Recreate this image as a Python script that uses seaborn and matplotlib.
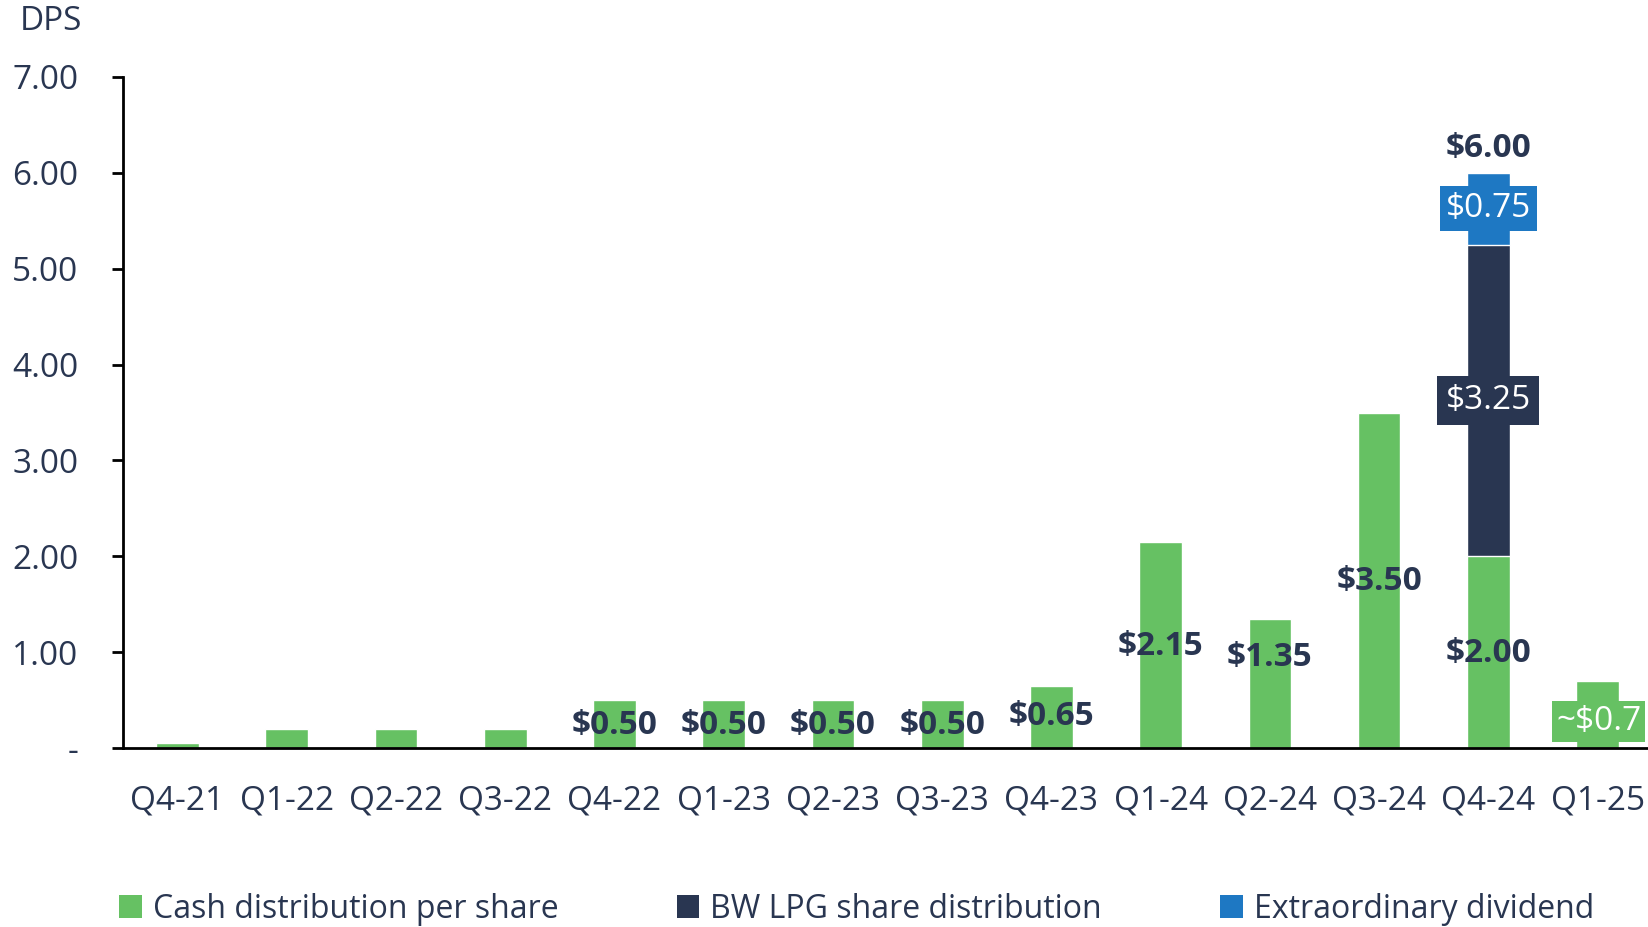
import matplotlib
matplotlib.use("Agg")
import matplotlib.pyplot as plt
from matplotlib.patches import Patch
import numpy as np
import pandas as pd
import seaborn as sns

# ---- data ----
quarters = ["Q4-21", "Q1-22", "Q2-22", "Q3-22", "Q4-22", "Q1-23", "Q2-23",
            "Q3-23", "Q4-23", "Q1-24", "Q2-24", "Q3-24", "Q4-24", "Q1-25"]
cash_dps = [0.05, 0.20, 0.20, 0.20, 0.50, 0.50, 0.50, 0.50, 0.65, 2.15,
            1.35, 3.50, 2.00, 0.70]
share_dist = [0, 0, 0, 0, 0, 0, 0, 0, 0, 0, 0, 0, 3.25, 0]
extra_div = [0, 0, 0, 0, 0, 0, 0, 0, 0, 0, 0, 0, 0.75, 0]

# dark value labels for the cash bars (None = no label)
cash_labels = [None, None, None, None, "$0.50", "$0.50", "$0.50", "$0.50",
               "$0.65", "$2.15", "$1.35", "$3.50", "$2.00", None]
cash_label_y = [None, None, None, None, 0.24, 0.24, 0.24, 0.24, 0.33, 1.06,
                0.95, 1.74, 0.99, None]

yticks = [0, 1, 2, 3, 4, 5, 6, 7]
ytick_labels = ["-", "1.00", "2.00", "3.00", "4.00", "5.00", "6.00", "7.00"]

legend_labels = ["Cash distribution per share", "BW LPG share distribution",
                 "Extraordinary dividend"]

GREEN = "#66C163"
NAVY = "#293651"
BLUE = "#1E78C3"
TEXT = "#293651"
FS = 24
FS_LEG = 23

sns.set_theme(style="white")
plt.rcParams["font.family"] = ["Open Sans", "DejaVu Sans"]

df = pd.DataFrame({"quarter": quarters, "cash": cash_dps,
                   "share": share_dist, "extra": extra_div})
df["top_share"] = df["cash"] + df["share"]
df["top_extra"] = df["top_share"] + df["extra"]

fig = plt.figure(figsize=(16.48, 9.27), dpi=100)
ax = fig.add_axes([0.0746, 0.193, 0.928, 0.724])

bw = 0.39
# stacked layers drawn from the top segment down
sns.barplot(data=df[df["extra"] > 0], x="quarter", y="top_extra", order=quarters,
            color=BLUE, saturation=1, width=bw, ax=ax, errorbar=None)
sns.barplot(data=df[df["share"] > 0], x="quarter", y="top_share", order=quarters,
            color=NAVY, saturation=1, width=bw, ax=ax, errorbar=None)
sns.barplot(data=df, x="quarter", y="cash", order=quarters,
            color=GREEN, saturation=1, width=bw, ax=ax, errorbar=None)

ax.set_xlim(-0.5, len(quarters) - 0.5)
ax.set_ylim(0, 7)
ax.set_yticks(yticks)
ax.set_yticklabels(ytick_labels)
ax.set_xlabel("")
ax.set_ylabel("")

for s in ["top", "right"]:
    ax.spines[s].set_visible(False)
for s in ["left", "bottom"]:
    ax.spines[s].set_color("black")
    ax.spines[s].set_linewidth(2)

ax.tick_params(axis="y", which="major", left=True, length=8, width=2,
               color="black", pad=24, labelsize=FS, labelcolor=TEXT)
ax.tick_params(axis="x", which="major", bottom=False, pad=20,
               labelsize=FS, labelcolor=TEXT)

# cash value labels
for i, (lab, yy) in enumerate(zip(cash_labels, cash_label_y)):
    if lab is None:
        continue
    ax.text(i, yy, lab, ha="center", va="center", fontsize=FS,
            fontweight="bold", color=TEXT)

# boxed labels for the stacked segments
for i in range(len(quarters)):
    if share_dist[i] > 0:
        ax.text(i, cash_dps[i] + share_dist[i] / 2, f"${share_dist[i]:.2f}",
                ha="center", va="center", fontsize=FS, color="white",
                bbox=dict(boxstyle="square,pad=0.25", fc=NAVY, ec="none"))
    if extra_div[i] > 0:
        ax.text(i, cash_dps[i] + share_dist[i] + extra_div[i] / 2,
                f"${extra_div[i]:.2f}", ha="center", va="center",
                fontsize=FS, color="white",
                bbox=dict(boxstyle="square,pad=0.18", fc=BLUE, ec="none"))
        total = cash_dps[i] + share_dist[i] + extra_div[i]
        ax.text(i, total + 0.25, f"${total:.2f}", ha="center", va="center",
                fontsize=FS, fontweight="bold", color=TEXT)

# estimate for the latest quarter
last = len(quarters) - 1
ax.text(last - 0.38, 0.28, f"~${cash_dps[last]:.1f}", ha="left", va="center",
        fontsize=FS, color="white",
        bbox=dict(boxstyle="square,pad=0.12", fc=GREEN, ec="none"))

fig.text(0.012, 0.977, "DPS", ha="left", va="center", fontsize=FS, color=TEXT)

handles = [Patch(facecolor=c, edgecolor="none") for c in (GREEN, NAVY, BLUE)]
leg = fig.legend(handles, legend_labels, loc="center left",
                 bbox_to_anchor=(0.0725, 0.0194), ncol=3, frameon=False,
                 fontsize=FS_LEG, handlelength=0.7, handleheight=0.7,
                 handletextpad=0.35, columnspacing=3.7, borderpad=0,
                 borderaxespad=0)
for t in leg.get_texts():
    t.set_color(TEXT)

fig.savefig("out.png", dpi=100)
